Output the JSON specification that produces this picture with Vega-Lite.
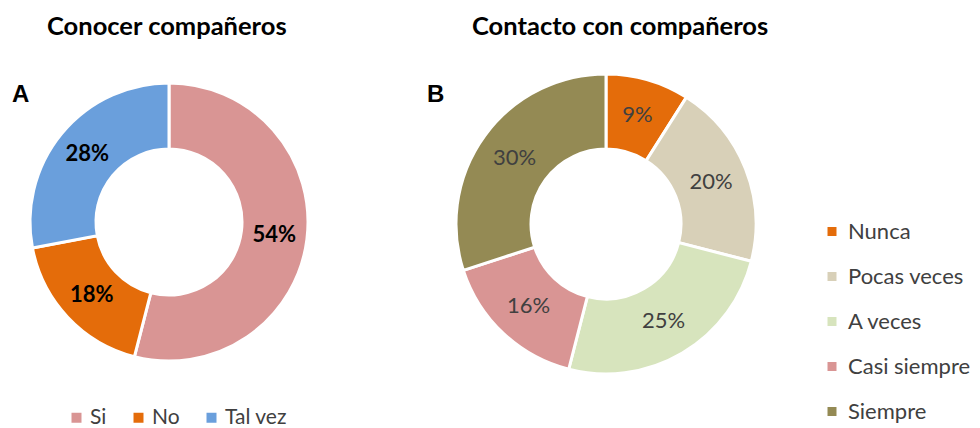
{
  "$schema": "https://vega.github.io/schema/vega-lite/v6.json",
  "padding": {"left": 12, "top": 14, "right": 0, "bottom": 0},
  "background": "white",
  "config": {
    "view": {"stroke": null},
    "font": "Lato",
    "legend": {"title": null, "symbolType": "square", "labelFontSize": 22, "labelColor": "#404040", "labelFont": "Lato", "symbolStrokeWidth": 0}
  },
  "resolve": {"scale": {"color": "independent"}, "legend": {"color": "independent"}},
  "spacing": 101,
  "hconcat": [
    {
      "title": {"text": "Conocer compañeros", "anchor": "start", "dx": 35, "fontSize": 25.5, "fontWeight": "bold", "color": "black", "offset": 21},
      "vconcat": [
        {
          "title": {"text": "A", "anchor": "start", "font": "Liberation Sans", "fontSize": 24, "fontWeight": "bold", "color": "black", "offset": -46},
          "width": 314,
          "height": 322,
          "data": {"values": [
            {"resp": "Si", "share": 0.54, "o": 1},
            {"resp": "No", "share": 0.18, "o": 2},
            {"resp": "Tal vez", "share": 0.28, "o": 3}
          ]},
          "encoding": {
            "theta": {"field": "share", "type": "quantitative", "stack": true},
            "order": {"field": "o", "type": "quantitative"}
          },
          "layer": [
            {
              "mark": {"type": "arc", "innerRadius": 73, "outerRadius": 139, "stroke": "white", "strokeWidth": 3},
              "encoding": {
                "color": {"field": "resp", "type": "nominal",
                  "scale": {"domain": ["Si", "No", "Tal vez"], "range": ["#D99594", "#E46C0A", "#6A9FDC"]},
                  "legend": {"orient": "none", "direction": "horizontal", "legendX": 54, "legendY": 346, "columnPadding": 21, "symbolSize": 100, "labelOffset": 3, "labelFontSize": 21}}
              }
            },
            {
              "mark": {"type": "text", "radius": 106, "fontSize": 22, "fontWeight": "bold", "color": "black"},
              "encoding": {
                "text": {"field": "share", "type": "quantitative", "format": ".0%"},
                "detail": {"field": "resp"}
              }
            }
          ]
        }
      ]
    },
    {
      "title": {"text": "Contacto con compañeros", "anchor": "start", "dx": 45, "fontSize": 25.5, "fontWeight": "bold", "color": "black", "offset": 21},
      "vconcat": [
        {
          "title": {"text": "B", "anchor": "start", "font": "Liberation Sans", "fontSize": 24, "fontWeight": "bold", "color": "black", "offset": -46},
          "width": 358,
          "height": 326,
          "data": {"values": [
            {"freq": "Nunca", "share": 0.09, "o": 1},
            {"freq": "Pocas veces", "share": 0.20, "o": 2},
            {"freq": "A veces", "share": 0.25, "o": 3},
            {"freq": "Casi siempre", "share": 0.16, "o": 4},
            {"freq": "Siempre", "share": 0.30, "o": 5}
          ]},
          "encoding": {
            "theta": {"field": "share", "type": "quantitative", "stack": true},
            "order": {"field": "o", "type": "quantitative"}
          },
          "layer": [
            {
              "mark": {"type": "arc", "innerRadius": 75, "outerRadius": 150, "stroke": "white", "strokeWidth": 3},
              "encoding": {
                "color": {"field": "freq", "type": "nominal",
                  "scale": {"domain": ["Nunca", "Pocas veces", "A veces", "Casi siempre", "Siempre"], "range": ["#E46C0A", "#D8D0B8", "#D7E4BD", "#D99594", "#948A54"]},
                  "legend": {"orient": "none", "direction": "vertical", "legendX": 394, "legendY": 159.5, "rowPadding": 23, "symbolSize": 81, "labelOffset": 5}}
              }
            },
            {
              "mark": {"type": "text", "radius": 113, "fontSize": 22, "color": "#404040"},
              "encoding": {
                "text": {"field": "share", "type": "quantitative", "format": ".0%"},
                "detail": {"field": "freq"}
              }
            }
          ]
        }
      ]
    }
  ]
}
